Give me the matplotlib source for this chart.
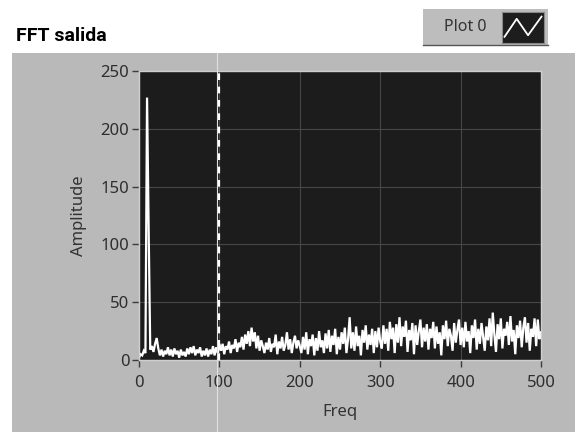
import numpy as np
import matplotlib.pyplot as plt
from matplotlib.patches import Rectangle
from matplotlib.lines import Line2D

# FFT magnitude, one value every 2 Hz from 0 to 500 Hz
amp_0_100 = [2, 5, 4, 8, 6, 227, 113, 9, 12, 7, 14, 19, 10, 4, 9, 3, 8, 5, 11, 4,
             9, 3, 10, 5, 8, 2, 9, 4, 7, 3, 10, 5, 11, 6, 12, 4, 9, 6, 11, 3,
             8, 4, 10, 3, 9, 5, 12, 4, 11, 6, 14]
amp_100_200 = [8, 14, 5, 12, 9, 16, 6, 13, 10, 18, 7, 15, 11, 20, 9, 22, 14, 25, 12, 28,
               16, 24, 10, 21, 8, 17, 12, 6, 15, 9, 19, 7, 14, 11, 22, 5, 16, 10, 20, 8,
               13, 24, 9, 18, 6, 15, 21, 10, 17, 12]
amp_200_300 = [6, 20, 9, 24, 5, 18, 12, 22, 4, 19, 8, 25, 11, 17, 6, 23, 10, 26, 7, 21,
               13, 27, 5, 20, 9, 24, 14, 28, 6, 18, 37, 10, 24, 8, 29, 12, 21, 4, 26, 15,
               30, 9, 22, 13, 27, 6, 25, 11, 28, 16]
amp_300_400 = [10, 30, 14, 27, 8, 33, 18, 28, 6, 31, 15, 37, 12, 29, 20, 34, 7, 26, 17, 32,
               5, 30, 13, 25, 35, 11, 28, 16, 31, 9, 27, 19, 33, 10, 29, 14, 24, 4, 30, 18,
               34, 12, 27, 21, 8, 32, 15, 26, 35, 13]
amp_400_500 = [28, 11, 33, 16, 25, 6, 30, 19, 35, 9, 27, 14, 32, 20, 8, 29, 17, 36, 12, 41,
               22, 7, 31, 18, 36, 10, 27, 21, 33, 13, 38, 16, 26, 5, 30, 19, 34, 11, 28, 37,
               15, 32, 8, 27, 20, 36, 12, 35, 18, 24]

amp = np.array(amp_0_100 + amp_100_200 + amp_200_300 + amp_300_400 + amp_400_500)
freq = np.arange(len(amp)) * 2

cursor_freq = 100
x_ticks = [0, 100, 200, 300, 400, 500]
y_ticks = [0, 50, 100, 150, 200, 250]

W, H = 575, 432


def fx(px):
    return px / W


def fy(py):
    return 1 - py / H


plt.rcParams['font.family'] = 'Noto Sans'

fig = plt.figure(figsize=(5.75, 4.32), dpi=100, facecolor='white')

# grey front panel behind the graph
fig.add_artist(Rectangle((fx(12), 0), 1 - fx(12), fy(53), transform=fig.transFigure,
                         facecolor='#b9b9b9', edgecolor='none', zorder=-2))

ax = fig.add_axes([fx(139), fy(360), fx(541) - fx(139), fy(71) - fy(360)])
ax.set_facecolor('#1c1c1c')
ax.set_xlim(0, 500)
ax.set_ylim(0, 250)
ax.set_xticks(x_ticks)
ax.set_yticks(y_ticks)
ax.grid(color='#474747', lw=0.8)
ax.set_axisbelow(True)

ax.plot(freq, amp, color='white', lw=1.6, solid_joinstyle='miter')
ax.axvline(cursor_freq, color='white', lw=1.6, dashes=(3, 3))

ax.tick_params(direction='out', length=5, width=1, color='#3c3c3c',
               labelcolor='#2e2e2e', labelsize=12)
ax.tick_params(axis='x', pad=6)
ax.tick_params(axis='y', pad=2)
for s in ax.spines.values():
    s.set_color('#cfcfcf')
    s.set_linewidth(1)

ax.set_xlabel('Freq', fontsize=12, color='#333333', labelpad=9)
ax.set_ylabel('Amplitude', fontsize=12, color='#333333', labelpad=10)

# thin light line crossing the panel
fig.add_artist(Line2D([fx(217), fx(217)], [0, fy(53)], transform=fig.transFigure,
                      color='#e0e0e0', lw=0.8, zorder=5))

fig.text(fx(16), fy(36), 'FFT salida', fontsize=14, fontweight='bold',
         family='Roboto', va='center', ha='left', color='black')

# plot legend
fig.add_artist(Rectangle((fx(423), fy(46)), fx(548) - fx(423), fy(9) - fy(46),
                         transform=fig.transFigure, facecolor='#bdbdbd',
                         edgecolor='none', zorder=1))
fig.add_artist(Line2D([fx(423), fx(548)], [fy(45), fy(45)], transform=fig.transFigure,
                      color='#555555', lw=1, zorder=2))
fig.text(fx(465), fy(27), 'Plot 0', fontsize=11.5, color='#333333',
         va='center', ha='center', zorder=3)
sw = fig.add_axes([fx(502), fy(43), fx(544) - fx(502), fy(12) - fy(43)])
sw.set_zorder(4)
sw.set_facecolor('#1d1d1d')
sw.plot([0.06, 0.35, 0.62, 0.94], [0.2, 0.78, 0.25, 0.85], color='white', lw=1.3)
sw.set_xlim(0, 1)
sw.set_ylim(0, 1)
sw.set_xticks([])
sw.set_yticks([])
for s in sw.spines.values():
    s.set_color('#888888')

fig.savefig('out.png', dpi=100)
